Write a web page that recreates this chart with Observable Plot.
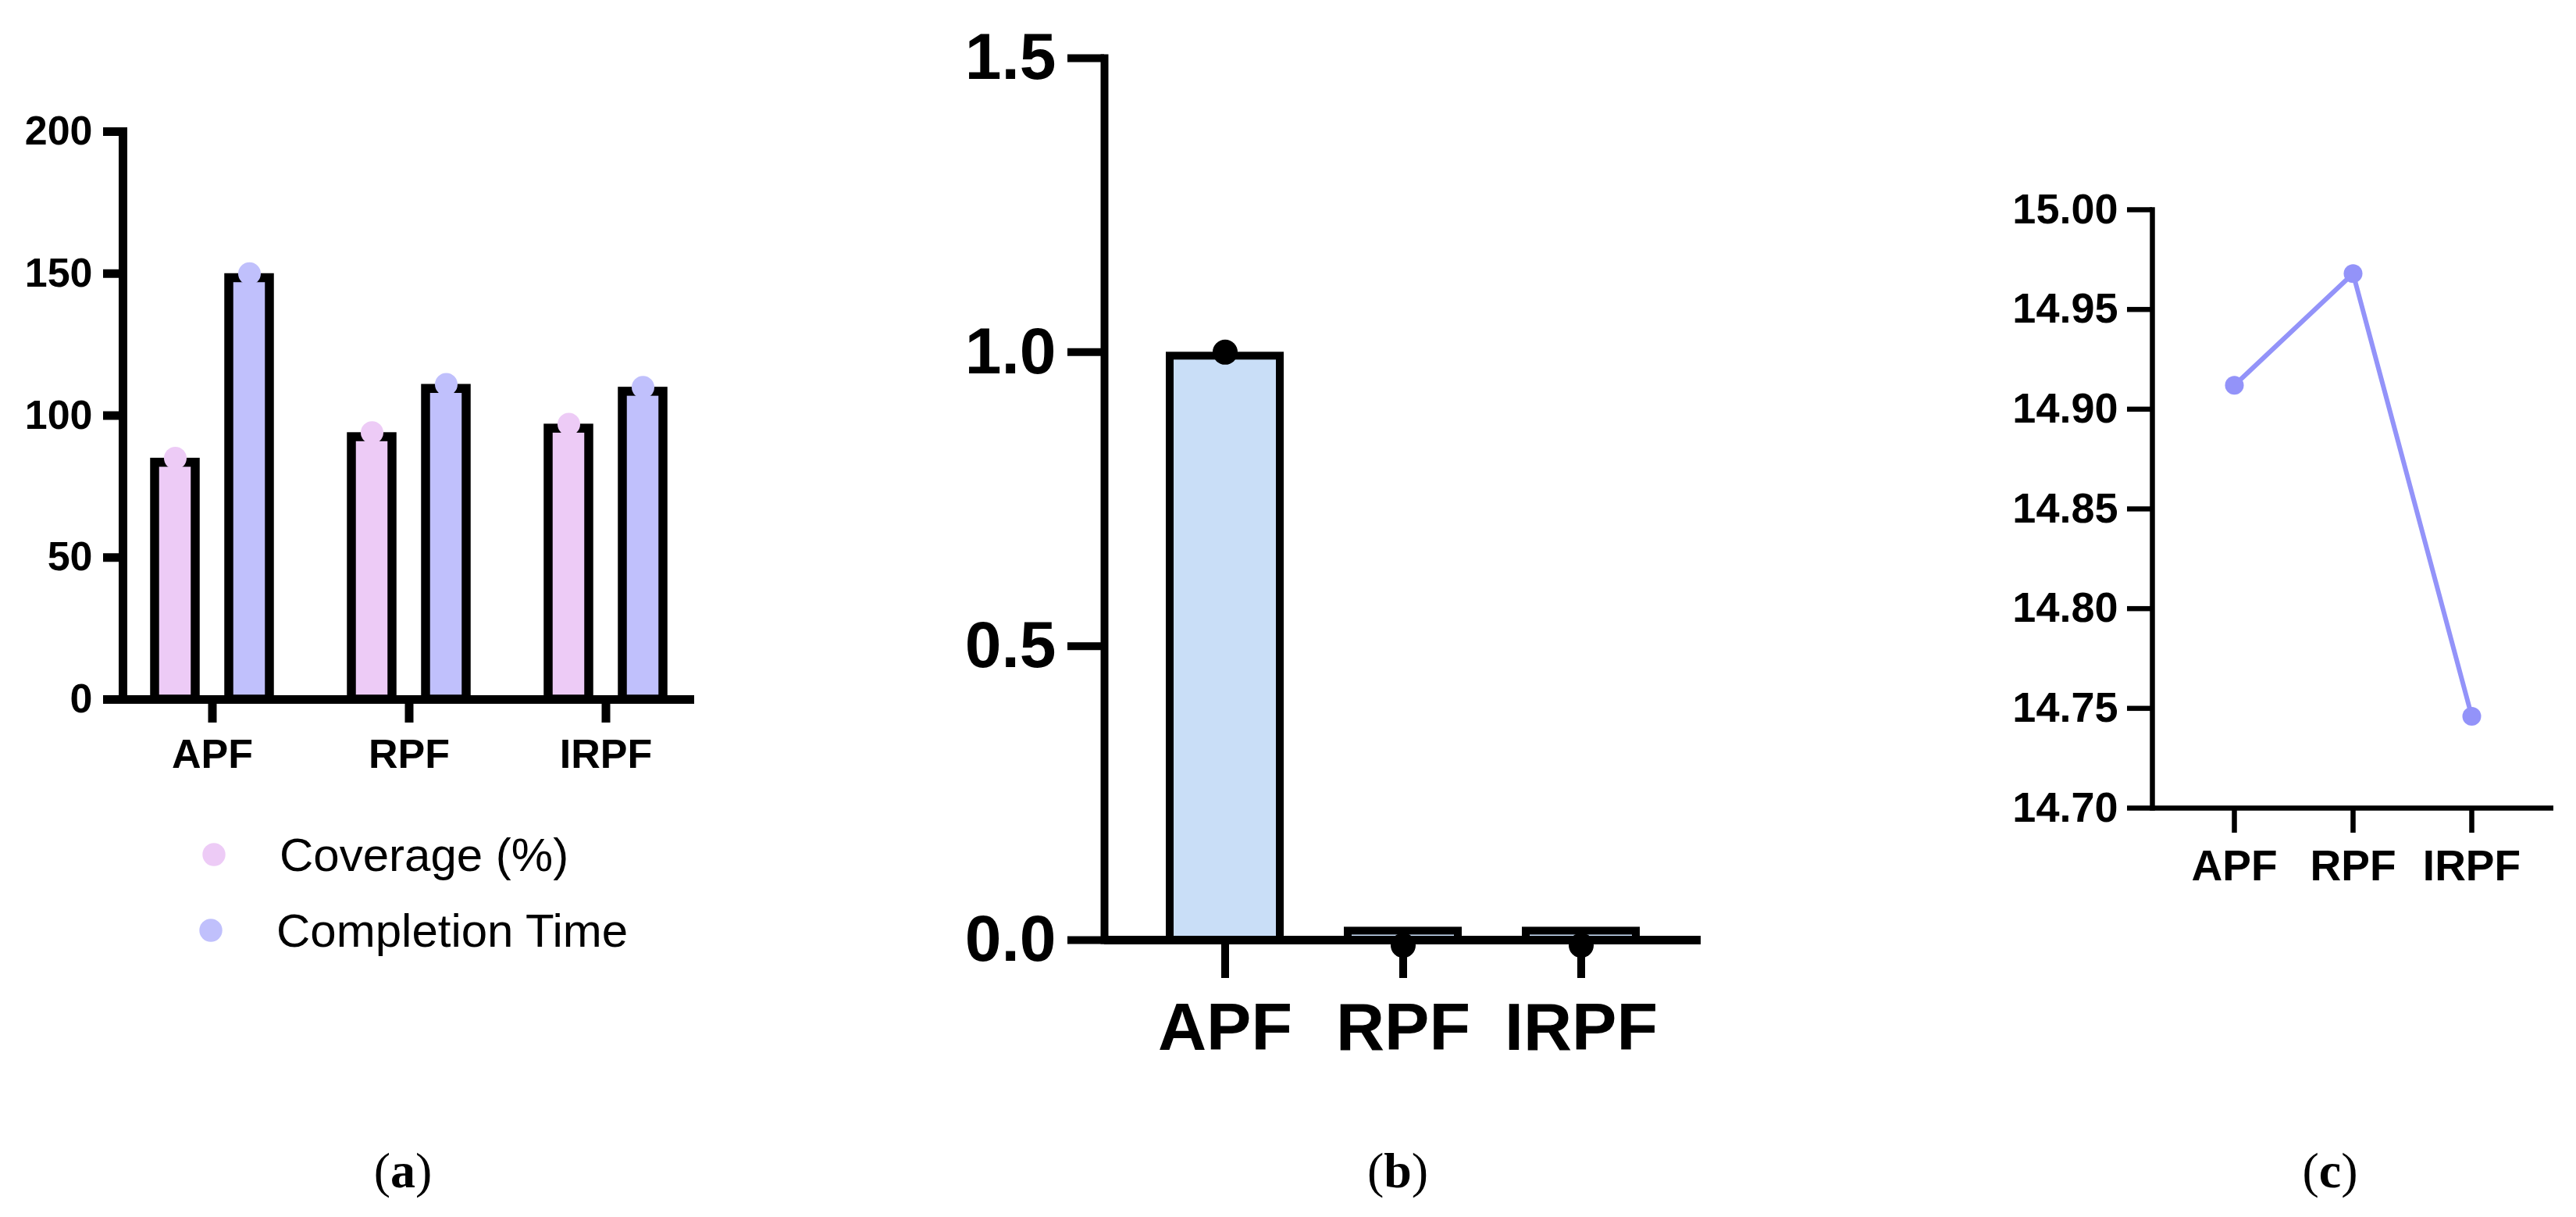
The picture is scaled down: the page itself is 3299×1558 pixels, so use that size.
<!DOCTYPE html>
<html><head><meta charset="utf-8">
<script src="https://cdn.jsdelivr.net/npm/d3@7"></script>
<script src="https://cdn.jsdelivr.net/npm/@observablehq/plot@0.6"></script>
<style>
html,body{margin:0;padding:0;background:#fff;}
#fig{position:relative;width:3299px;height:1558px;background:#fff;overflow:hidden;}
.panel{position:absolute;top:0;}
#overlay{position:absolute;left:0;top:0;}
</style></head><body><div id="fig"></div>
<script>
// ---- data ----
const categories = ["APF", "RPF", "IRPF"];
// panel (a)
const seriesNames = ["Coverage (%)", "Completion Time"];
const seriesColors = ["#EDCBF6", "#C0C0FC"];
const coverage = [85, 94, 97];
const completionTime = [150, 111, 110];
const yTicksA = [0, 50, 100, 150, 200];
// panel (b)
const barsB = [1.0, 0.022, 0.022];
const pointsB = [1.0, -0.009, -0.009];
const yTicksB = [0, 0.5, 1.0, 1.5];
// panel (c)
const valuesC = [14.912, 14.968, 14.746];
const yTicksC = [14.70, 14.75, 14.80, 14.85, 14.90, 14.95, 15.00];
const captions = ["a", "b", "c"];

const font = "'Liberation Sans', Arial, Helvetica, sans-serif";
const baseStyle = {fontFamily: font, color: "black", background: "transparent", maxWidth: "none", overflow: "visible"};
const fig = document.getElementById("fig");
function place(el, left) {
  const d = document.createElement("div");
  d.className = "panel";
  d.style.left = left + "px";
  d.appendChild(el);
  fig.appendChild(d);
}

// ---- panel (a) ----
const rowsCov = categories.map((c, i) => ({category: c, series: seriesNames[0], value: coverage[i]}));
const rowsComp = categories.map((c, i) => ({category: c, series: seriesNames[1], value: completionTime[i]}));
const swA = 11.5;
const plotA = Plot.plot({
  width: 960, height: 1000,
  marginLeft: 157, marginRight: 71, marginTop: 168, marginBottom: 105,
  style: baseStyle,
  x: {domain: categories, paddingInner: 0.418, paddingOuter: 0.158},
  y: {domain: [0, 200]},
  color: {domain: seriesNames, range: seriesColors},
  marks: [
    Plot.barY(rowsCov, {x: "category", y: "value", fill: "series", stroke: "black", strokeWidth: swA, insetRight: 95, insetTop: swA / 2}),
    Plot.barY(rowsComp, {x: "category", y: "value", fill: "series", stroke: "black", strokeWidth: swA, insetLeft: 95, insetTop: swA / 2}),
    Plot.dot(rowsCov, {x: "category", y: "value", fill: "series", r: 14.5, dx: -47.5}),
    Plot.dot(rowsComp, {x: "category", y: "value", fill: "series", r: 14.5, dx: 47.5}),
    Plot.frame({anchor: "left", stroke: "black", strokeWidth: 11, strokeLinecap: "square"}),
    Plot.ruleY([0], {stroke: "black", strokeWidth: 11}),
    Plot.axisY({ticks: yTicksA, tickSize: 25, tickPadding: 14, strokeWidth: 11, fontSize: 52, fontWeight: "bold", label: null}),
    Plot.axisX({tickSize: 30, tickPadding: 21, strokeWidth: 11, fontSize: 52, fontWeight: "bold", label: null})
  ]
});
place(plotA, 0);

// ---- panel (b) ----
const rowsB = categories.map((c, i) => ({category: c, bar: barsB[i], point: pointsB[i]}));
const plotB = Plot.plot({
  width: 1100, height: 1400,
  marginLeft: 264, marginRight: 72, marginTop: 74, marginBottom: 197,
  style: baseStyle,
  x: {domain: categories, paddingInner: 0.383, paddingOuter: 0.366},
  y: {domain: [0, 1.5]},
  marks: [
    Plot.barY(rowsB, {x: "category", y: "bar", fill: "#C9DEF7", stroke: "black", strokeWidth: 10, insetTop: 5}),
    Plot.dot(rowsB, {x: "category", y: "point", fill: "black", r: 16}),
    Plot.frame({anchor: "left", stroke: "black", strokeWidth: 10, strokeLinecap: "square"}),
    Plot.ruleY([0], {stroke: "black", strokeWidth: 11}),
    Plot.axisY({ticks: yTicksB, tickFormat: ".1f", tickSize: 47, tickPadding: 15, strokeWidth: 10, fontSize: 84, fontWeight: "bold", label: null}),
    Plot.axisX({tickSize: 49, tickPadding: 30, strokeWidth: 10, fontSize: 86, fontWeight: "bold", label: null})
  ]
});
place(plotB, 1150);

// ---- panel (c) ----
const rowsC = categories.map((c, i) => ({category: c, value: valuesC[i]}));
const lineColor = "#9393F9";
const plotC = Plot.plot({
  width: 699, height: 1200,
  marginLeft: 156, marginRight: 29, marginTop: 268, marginBottom: 166,
  style: baseStyle,
  x: {type: "point", domain: categories, padding: 0.68},
  y: {domain: [14.70, 15.00]},
  marks: [
    Plot.line(rowsC, {x: "category", y: "value", stroke: lineColor, strokeWidth: 6}),
    Plot.dot(rowsC, {x: "category", y: "value", fill: lineColor, r: 12}),
    Plot.frame({anchor: "left", stroke: "black", strokeWidth: 6.5, strokeLinecap: "square"}),
    Plot.ruleY([14.70], {stroke: "black", strokeWidth: 6.5}),
    Plot.axisY({ticks: yTicksC, tickFormat: ".2f", tickSize: 32, tickPadding: 12, strokeWidth: 6.5, fontSize: 54, fontWeight: "bold", label: null}),
    Plot.axisX({tickSize: 32, tickPadding: 21, strokeWidth: 6.5, fontSize: 55, fontWeight: "bold", label: null})
  ]
});
place(plotC, 2600);

// ---- legend (a) and captions ----
const ns = "http://www.w3.org/2000/svg";
const ov = document.createElementNS(ns, "svg");
ov.setAttribute("id", "overlay");
ov.setAttribute("width", 3299);
ov.setAttribute("height", 1558);
const legendDotX = [274, 270];
const legendY = [1094, 1191];
const legendTextX = [358, 354];
seriesNames.forEach((name, i) => {
  const c = document.createElementNS(ns, "circle");
  c.setAttribute("cx", legendDotX[i]); c.setAttribute("cy", legendY[i]); c.setAttribute("r", 14.7);
  c.setAttribute("fill", seriesColors[i]);
  ov.appendChild(c);
  const t = document.createElementNS(ns, "text");
  t.setAttribute("x", legendTextX[i]); t.setAttribute("y", legendY[i] + 21);
  t.setAttribute("font-family", font); t.setAttribute("font-size", 60);
  t.setAttribute("fill", "black");
  t.textContent = name;
  ov.appendChild(t);
});
const capX = [516, 1790, 2984];
captions.forEach((letter, i) => {
  const t = document.createElementNS(ns, "text");
  t.setAttribute("x", capX[i]); t.setAttribute("y", 1520);
  t.setAttribute("text-anchor", "middle");
  t.setAttribute("font-family", "'Liberation Serif', 'Times New Roman', serif");
  t.setAttribute("font-size", 64);
  t.setAttribute("fill", "black");
  const a = document.createElementNS(ns, "tspan"); a.textContent = "(";
  const b = document.createElementNS(ns, "tspan"); b.textContent = letter; b.setAttribute("font-weight", "bold");
  const e = document.createElementNS(ns, "tspan"); e.textContent = ")";
  t.appendChild(a); t.appendChild(b); t.appendChild(e);
  ov.appendChild(t);
});
fig.appendChild(ov);
</script></body></html>
